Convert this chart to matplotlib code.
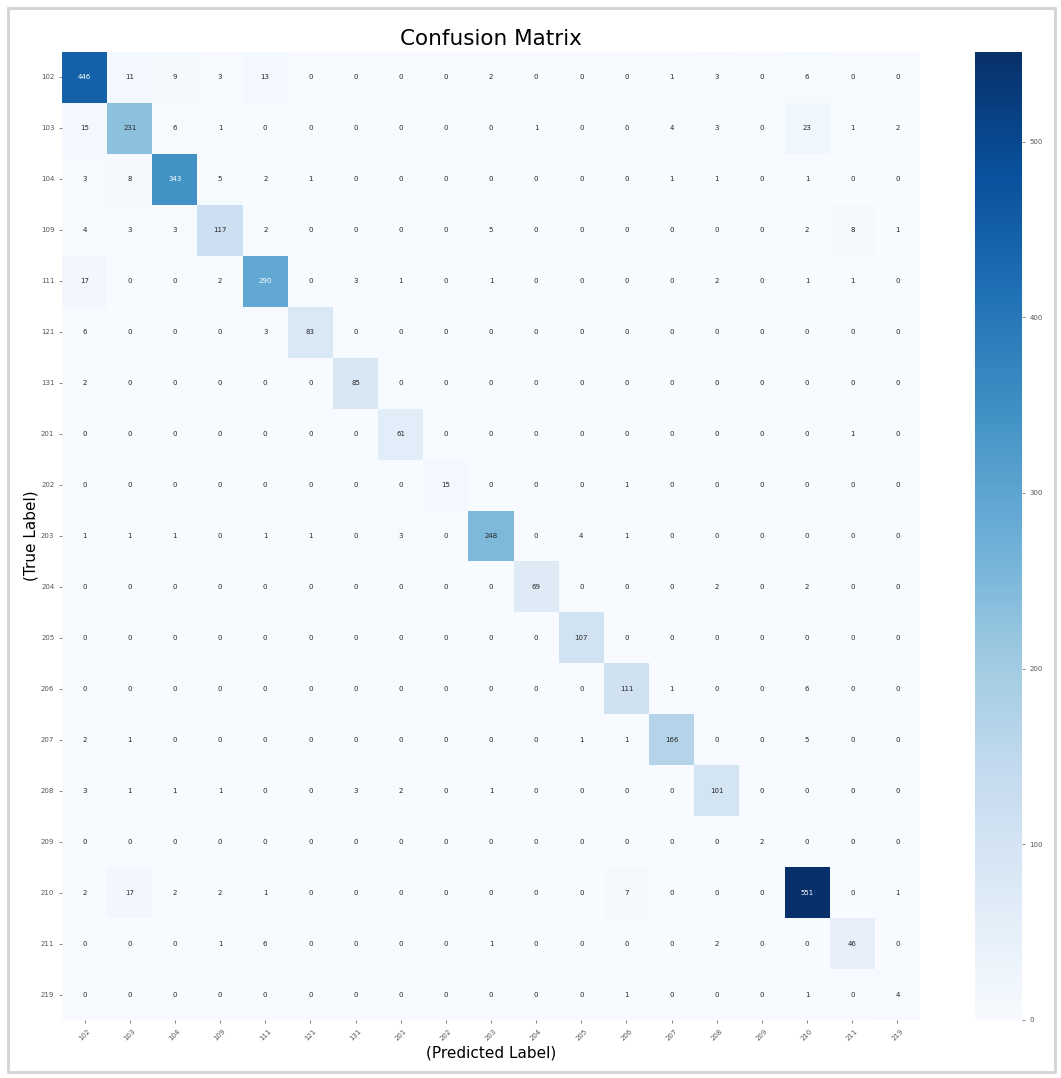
import matplotlib as mpl
mpl.use('Agg')
import matplotlib.pyplot as plt
import numpy as np
import seaborn as sns

labels = ['102', '103', '104', '109', '111', '121', '131', '201', '202', '203',
          '204', '205', '206', '207', '208', '209', '210', '211', '219']

# rows = true label, columns = predicted label
row_102 = [446, 11, 9, 3, 13, 0, 0, 0, 0, 2, 0, 0, 0, 1, 3, 0, 6, 0, 0]
row_103 = [15, 231, 6, 1, 0, 0, 0, 0, 0, 0, 1, 0, 0, 4, 3, 0, 23, 1, 2]
row_104 = [3, 8, 343, 5, 2, 1, 0, 0, 0, 0, 0, 0, 0, 1, 1, 0, 1, 0, 0]
row_109 = [4, 3, 3, 117, 2, 0, 0, 0, 0, 5, 0, 0, 0, 0, 0, 0, 2, 8, 1]
row_111 = [17, 0, 0, 2, 290, 0, 3, 1, 0, 1, 0, 0, 0, 0, 2, 0, 1, 1, 0]
row_121 = [6, 0, 0, 0, 3, 83, 0, 0, 0, 0, 0, 0, 0, 0, 0, 0, 0, 0, 0]
row_131 = [2, 0, 0, 0, 0, 0, 85, 0, 0, 0, 0, 0, 0, 0, 0, 0, 0, 0, 0]
row_201 = [0, 0, 0, 0, 0, 0, 0, 61, 0, 0, 0, 0, 0, 0, 0, 0, 0, 1, 0]
row_202 = [0, 0, 0, 0, 0, 0, 0, 0, 15, 0, 0, 0, 1, 0, 0, 0, 0, 0, 0]
row_203 = [1, 1, 1, 0, 1, 1, 0, 3, 0, 248, 0, 4, 1, 0, 0, 0, 0, 0, 0]
row_204 = [0, 0, 0, 0, 0, 0, 0, 0, 0, 0, 69, 0, 0, 0, 2, 0, 2, 0, 0]
row_205 = [0, 0, 0, 0, 0, 0, 0, 0, 0, 0, 0, 107, 0, 0, 0, 0, 0, 0, 0]
row_206 = [0, 0, 0, 0, 0, 0, 0, 0, 0, 0, 0, 0, 111, 1, 0, 0, 6, 0, 0]
row_207 = [2, 1, 0, 0, 0, 0, 0, 0, 0, 0, 0, 1, 1, 166, 0, 0, 5, 0, 0]
row_208 = [3, 1, 1, 1, 0, 0, 3, 2, 0, 1, 0, 0, 0, 0, 101, 0, 0, 0, 0]
row_209 = [0, 0, 0, 0, 0, 0, 0, 0, 0, 0, 0, 0, 0, 0, 0, 2, 0, 0, 0]
row_210 = [2, 17, 2, 2, 1, 0, 0, 0, 0, 0, 0, 0, 7, 0, 0, 0, 551, 0, 1]
row_211 = [0, 0, 0, 1, 6, 0, 0, 0, 0, 1, 0, 0, 0, 0, 2, 0, 0, 46, 0]
row_219 = [0, 0, 0, 0, 0, 0, 0, 0, 0, 0, 0, 0, 1, 0, 0, 0, 1, 0, 4]

cm = np.array([row_102, row_103, row_104, row_109, row_111, row_121, row_131,
               row_201, row_202, row_203, row_204, row_205, row_206, row_207,
               row_208, row_209, row_210, row_211, row_219])

fig = plt.figure(figsize=(10.61, 10.78), dpi=100)
W, H = 1061, 1078
ax = fig.add_axes([62 / W, 1 - 1020 / H, (920 - 62) / W, (1020 - 52) / H])
cax = fig.add_axes([975 / W, 1 - 1020 / H, 47 / W, (1020 - 52) / H])

sns.heatmap(cm, annot=True, fmt='d', cmap='Blues', ax=ax, cbar_ax=cax,
            xticklabels=labels, yticklabels=labels,
            annot_kws={'fontsize': 5})

ax.set_title('Confusion Matrix', fontsize=15.5, pad=5)
ax.set_xlabel('(Predicted Label)', fontsize=11, labelpad=3)
ax.set_ylabel('(True Label)', fontsize=11, labelpad=2)
ax.tick_params(axis='both', labelsize=5, length=2, width=0.5, colors='#555555')
plt.setp(ax.get_xticklabels(), rotation=45)
plt.setp(ax.get_yticklabels(), rotation=0)
cax.tick_params(labelsize=5, length=2, width=0.5, colors='#555555')

# light frame around the whole picture
fig.patches.append(mpl.patches.Rectangle((8 / W, 6 / H), 1 - 14 / W, 1 - 14 / H,
                                         transform=fig.transFigure, fill=False,
                                         edgecolor='#d4d4d4', linewidth=2))

fig.savefig('out.png', dpi=100)
plt.close(fig)
